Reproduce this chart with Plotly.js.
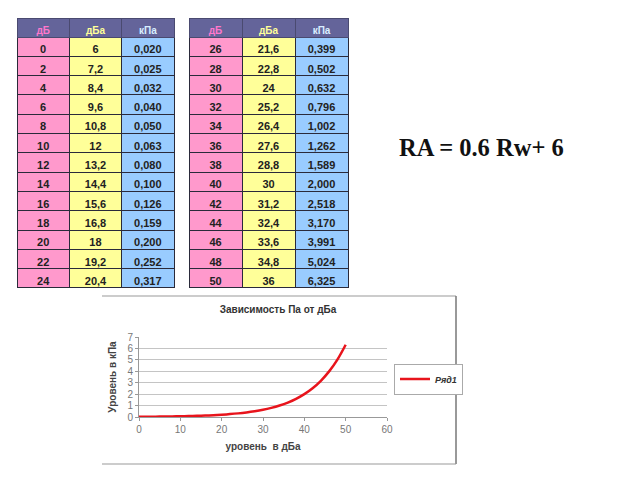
<!DOCTYPE html>
<html>
<head>
<meta charset="utf-8">
<script src="https://cdn.plot.ly/plotly-3.0.1.min.js"></script>
<style>
  html, body { margin: 0; padding: 0; background: #fff; }
  #chart { width: 640px; height: 480px; }
</style>
</head>
<body>
<div id="chart"></div>
<script>
// данные таблицы: дБ -> дБа -> кПа
const db  = [0, 2, 4, 6, 8, 10, 12, 14, 16, 18, 20, 22, 24,
             26, 28, 30, 32, 34, 36, 38, 40, 42, 44, 46, 48, 50];
const dba = [6, 7.2, 8.4, 9.6, 10.8, 12, 13.2, 14.4, 15.6, 16.8, 18, 19.2, 20.4,
             21.6, 22.8, 24, 25.2, 26.4, 27.6, 28.8, 30, 31.2, 32.4, 33.6, 34.8, 36];
const kpa = [0.020, 0.025, 0.032, 0.040, 0.050, 0.063, 0.080, 0.100, 0.126, 0.159, 0.200, 0.252, 0.317,
             0.399, 0.502, 0.632, 0.796, 1.002, 1.262, 1.589, 2.000, 2.518, 3.170, 3.991, 5.024, 6.325];
const headers = ['дБ', 'дБа', 'кПа'];

// цвета
const pink   = '#ff99cc';
const yellow = '#ffff99';
const blue   = '#99ccff';
const headBg = '#64649a';
const headFont = ['#ff77cc', '#ffff99', '#d8eeff'];
const lineRed = '#e8141c';

// запятая вместо точки
function fmt(v, d) {
  const s = (d === null) ? String(v) : v.toFixed(d);
  return s.replace('.', ',');
}

// одна таблица (13 строк)
function makeTable(from, to, x0, x1) {
  const cols = [
    db.slice(from, to).map(v => fmt(v, null)),
    dba.slice(from, to).map(v => fmt(v, null)),
    kpa.slice(from, to).map(v => fmt(v, 3))
  ];
  return {
    type: 'table',
    domain: { x: [x0 / 640, x1 / 640], y: [1 - 290 / 480, 1 - 18 / 480] },
    columnwidth: [1, 1, 1],
    header: {
      values: headers,
      height: 19,
      align: 'center',
      fill: { color: headBg },
      line: { color: '#4a4a70', width: 1 },
      font: { family: 'Liberation Sans, Arial', size: 10, color: headFont, weight: 'bold' }
    },
    cells: {
      values: cols,
      height: 19.3,
      align: 'center',
      fill: { color: [pink, yellow, blue] },
      line: { color: '#2a2a3a', width: 1 },
      font: { family: 'Liberation Sans, Arial', size: 11, color: '#222', weight: 'bold' }
    }
  };
}

const tableLeft  = makeTable(0, 13, 17, 174);
const tableRight = makeTable(13, 26, 189, 348);

// график кПа от дБ
const curve = {
  type: 'scatter',
  mode: 'lines',
  x: db,
  y: kpa,
  name: 'Ряд1',
  line: { color: lineRed, width: 2.5, shape: 'spline' },
  xaxis: 'x',
  yaxis: 'y'
};

const axisFont = { family: 'Liberation Sans, Arial', size: 10, color: '#777' };

const layout = {
  width: 640,
  height: 480,
  margin: { l: 0, r: 0, t: 0, b: 0 },
  paper_bgcolor: '#fff',
  plot_bgcolor: '#fff',
  title: {
    text: 'Зависимость Па от дБа',
    font: { family: 'Liberation Sans, Arial', size: 10, color: '#333', weight: 'bold' },
    xref: 'paper', yref: 'paper',
    x: 278 / 640, y: 1 - 309 / 480,
    xanchor: 'center', yanchor: 'middle'
  },
  xaxis: {
    domain: [139 / 640, 387 / 640],
    anchor: 'y',
    range: [0, 60],
    dtick: 10,
    showgrid: false,
    zeroline: false,
    showline: true,
    linecolor: '#999',
    ticks: 'outside',
    ticklen: 3,
    tickcolor: '#999',
    tickfont: axisFont,
    title: {
      text: 'уровень  в дБа',
      font: { family: 'Liberation Sans, Arial', size: 10, color: '#444', weight: 'bold' },
      standoff: 8
    }
  },
  yaxis: {
    domain: [1 - 417 / 480, 1 - 337 / 480],
    anchor: 'x',
    range: [0, 7],
    dtick: 1,
    showgrid: true,
    gridcolor: '#c4c4c4',
    zeroline: false,
    showline: true,
    linecolor: '#999',
    ticks: 'outside',
    ticklen: 3,
    tickcolor: '#999',
    tickfont: axisFont,
    title: {
      text: 'Уровень в кПа',
      font: { family: 'Liberation Sans, Arial', size: 10, color: '#444', weight: 'bold' },
      standoff: 8
    }
  },
  showlegend: true,
  legend: {
    x: 394 / 640, y: 1 - 379 / 480,
    xanchor: 'left', yanchor: 'middle',
    bgcolor: '#fff',
    bordercolor: '#aaa',
    borderwidth: 1,
    font: { family: 'Liberation Sans, Arial', size: 9, color: '#333', style: 'italic', weight: 'bold' },
    itemwidth: 30,
    tracegroupgap: 0
  },
  annotations: [{
    text: 'RA = 0.6 Rw+ 6',
    xref: 'paper', yref: 'paper',
    x: 481 / 640, y: 1 - 147 / 480,
    xanchor: 'center', yanchor: 'middle',
    showarrow: false,
    font: { family: 'Liberation Serif, Times New Roman', size: 24.5, color: '#111', weight: 'bold' }
  }],
  // рамка диаграммы (без левой стороны, как в оригинале)
  shapes: [
    { type: 'line', xref: 'paper', yref: 'paper', x0: 102 / 640, x1: 456 / 640, y0: 1 - 296 / 480, y1: 1 - 296 / 480, line: { color: '#999', width: 1 } },
    { type: 'line', xref: 'paper', yref: 'paper', x0: 456 / 640, x1: 456 / 640, y0: 1 - 296 / 480, y1: 1 - 464 / 480, line: { color: '#777', width: 1.5 } },
    { type: 'line', xref: 'paper', yref: 'paper', x0: 102 / 640, x1: 456 / 640, y0: 1 - 464 / 480, y1: 1 - 464 / 480, line: { color: '#999', width: 1 } }
  ]
};

Plotly.newPlot('chart', [tableLeft, tableRight, curve], layout, { displayModeBar: false, staticPlot: true });
</script>
</body>
</html>
